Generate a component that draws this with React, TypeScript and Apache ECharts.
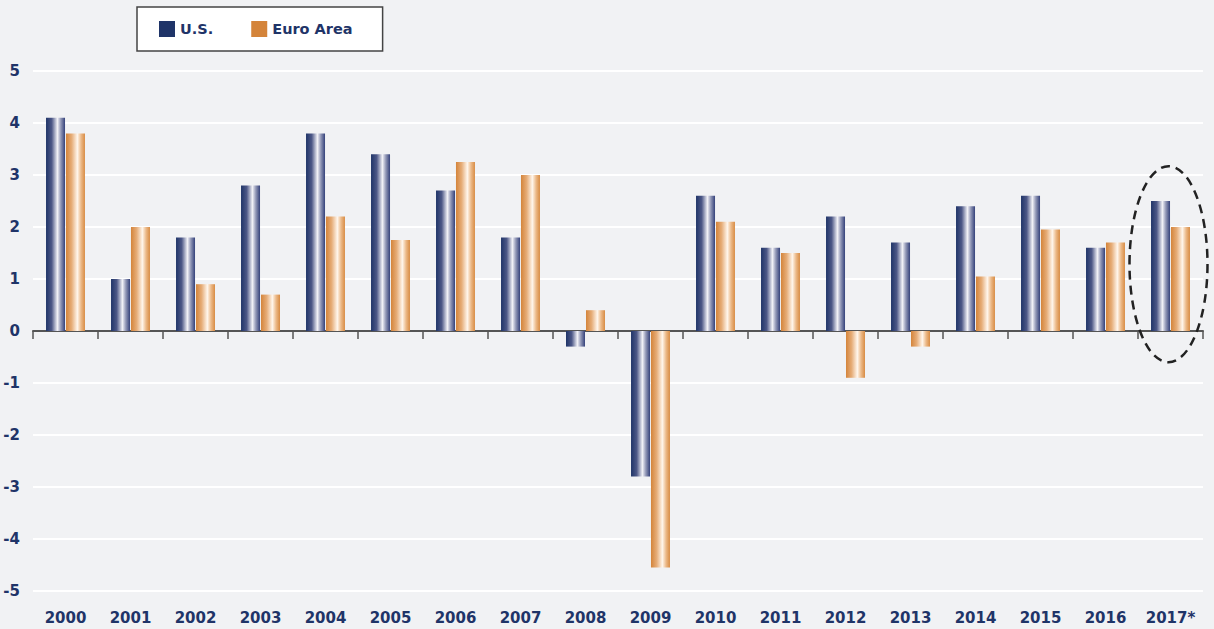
import React, { useEffect, useRef } from "react";
import * as echarts from "echarts";

const categories = ["2000","2001","2002","2003","2004","2005","2006","2007","2008","2009","2010","2011","2012","2013","2014","2015","2016","2017*"];
const usValues = [4.1, 1.0, 1.8, 2.8, 3.8, 3.4, 2.7, 1.8, -0.3, -2.8, 2.6, 1.6, 2.2, 1.7, 2.4, 2.6, 1.6, 2.5];
const euroValues = [3.8, 2.0, 0.9, 0.7, 2.2, 1.75, 3.25, 3.0, 0.4, -4.55, 2.1, 1.5, -0.9, -0.3, 1.05, 1.95, 1.7, 2.0];
const yTicks = { min: -5, max: 5, interval: 1 };

const NAVY = "#1f3468";
const ORANGE = "#d4843a";
const FONT = "DejaVu Sans";

export default function App() {
  const ref = useRef<HTMLDivElement>(null);
  useEffect(() => {
    if (!ref.current) return;
    const chart = echarts.init(ref.current, null, { renderer: "svg" });
    const usGrad = new echarts.graphic.LinearGradient(0, 0, 1, 0, [
      { offset: 0, color: "#1f3468" },
      { offset: 0.3, color: "#4d5887" },
      { offset: 0.6, color: "#f2f2f7" },
      { offset: 0.78, color: "#9197b6" },
      { offset: 1, color: "#34417a" },
    ]);
    const euGrad = new echarts.graphic.LinearGradient(0, 0, 1, 0, [
      { offset: 0, color: "#d4843a" },
      { offset: 0.3, color: "#e6ad78" },
      { offset: 0.6, color: "#fff6ec" },
      { offset: 0.8, color: "#ebb886" },
      { offset: 1, color: "#d88c44" },
    ]);
    chart.setOption({
      animation: false,
      backgroundColor: "#f1f2f4",
      textStyle: { fontFamily: FONT },
      legend: {
        left: 137,
        top: 7,
        backgroundColor: "#ffffff",
        borderColor: "#444444",
        borderWidth: 1.5,
        padding: [14, 30, 14, 22],
        itemWidth: 16,
        itemHeight: 16,
        itemGap: 38,
        icon: "rect",
        textStyle: { color: NAVY, fontSize: 14.5, fontWeight: "bold", fontFamily: FONT },
        data: [
          { name: "U.S.", itemStyle: { color: NAVY } },
          { name: "Euro Area", itemStyle: { color: ORANGE } },
        ],
      },
      grid: { left: 33, right: 11, top: 71, bottom: 38 },
      xAxis: [
        {
          type: "category",
          data: categories,
          position: "bottom",
          axisLine: { show: false, onZero: false },
          axisTick: { show: false },
          axisLabel: { color: NAVY, fontSize: 15, fontWeight: "bold", fontFamily: FONT, margin: 19 },
        },
        {
          type: "category",
          data: categories,
          position: "bottom",
          axisLine: { show: true, onZero: true, lineStyle: { color: "#555555", width: 2 } },
          axisTick: { show: true, length: 8, lineStyle: { color: "#555555", width: 1.5 } },
          axisLabel: { show: false },
        },
      ],
      yAxis: {
        type: "value",
        min: yTicks.min,
        max: yTicks.max,
        interval: yTicks.interval,
        axisLine: { show: false },
        axisTick: { show: false },
        axisLabel: { color: NAVY, fontSize: 15, fontWeight: "bold", fontFamily: FONT, margin: 13 },
        splitLine: { lineStyle: { color: "#ffffff", width: 2 } },
      },
      series: [
        {
          name: "U.S.",
          type: "bar",
          data: usValues,
          barWidth: 19,
          barGap: "5%",
          itemStyle: { color: usGrad },
        },
        {
          name: "Euro Area",
          type: "bar",
          data: euroValues,
          barWidth: 19,
          barGap: "5%",
          itemStyle: { color: euGrad },
        },
      ],
    });
    const top = chart.convertToPixel({ gridIndex: 0 }, [categories.length - 1, 3.17]) as number[];
    const bottom = chart.convertToPixel({ gridIndex: 0 }, [categories.length - 1, -0.6]) as number[];
    if (top && bottom) {
      const cx = top[0] - 2;
      const cy = (top[1] + bottom[1]) / 2;
      const ry = (bottom[1] - top[1]) / 2;
      chart.setOption({
        graphic: [
          {
            type: "ellipse",
            shape: { cx, cy, rx: 39, ry },
            style: { fill: "none", stroke: "#222222", lineWidth: 2.5, lineDash: [9, 6] },
            z: 100,
          },
        ],
      });
    }
    return () => chart.dispose();
  }, []);
  return <div ref={ref} style={{ width: 1214, height: 629, position: "absolute", left: 0, top: 0 }} />;
}
